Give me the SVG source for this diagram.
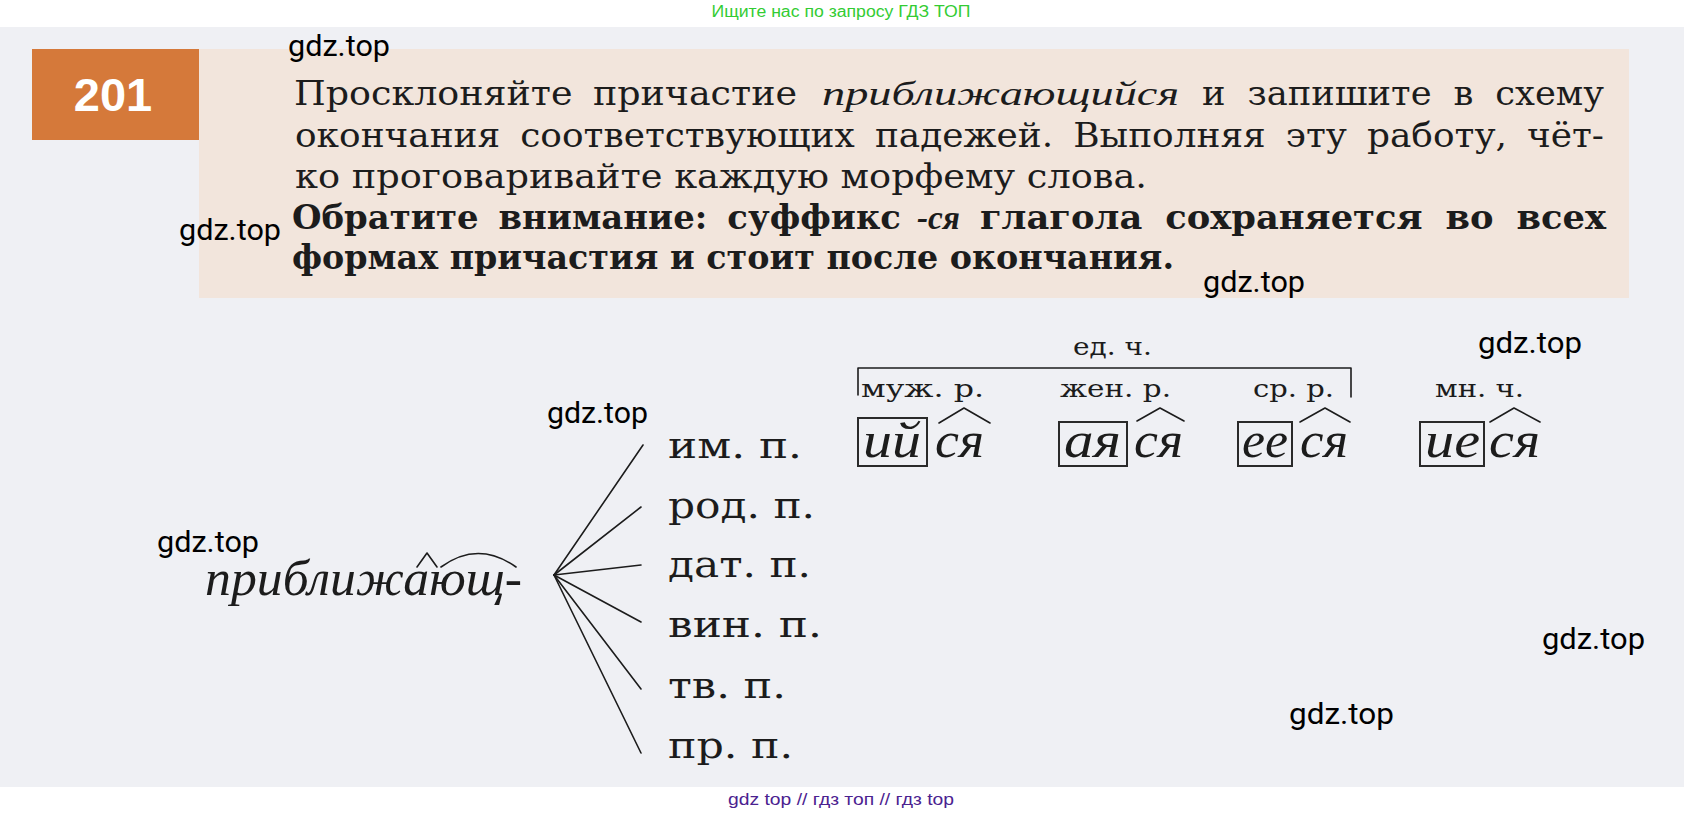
<svg xmlns="http://www.w3.org/2000/svg" width="1684" height="816" viewBox="0 0 1684 816">
<style>
.t{font-family:"DejaVu Serif","Liberation Serif",serif;font-size:33px;fill:#1c1c1c}
.b{font-weight:bold}
.it{font-family:"Liberation Serif","DejaVu Serif",serif;font-style:italic}
.wm{font-family:Roboto,"Liberation Sans",sans-serif;font-size:29px;fill:#000}
.case{font-family:"DejaVu Serif","Liberation Serif",serif;font-size:35px;fill:#1c1c1c}
.lab{font-family:"DejaVu Serif","Liberation Serif",serif;font-size:25px;fill:#1c1c1c}
.end{font-family:"Liberation Serif","DejaVu Serif",serif;font-style:italic;font-size:50px;fill:#1c1c1c}
.ln{stroke:#1c1c1c;stroke-width:1.6;fill:none;stroke-linecap:round;stroke-linejoin:round}
.box{fill:none;stroke:#2a2a2a;stroke-width:2}
</style>
<rect width="1684" height="816" fill="#ffffff"/>
<rect x="0" y="27" width="1684" height="760" fill="#eff0f4"/>
<text x="841" y="17" text-anchor="middle" font-family="'Liberation Sans',Arial,sans-serif" font-size="16" fill="#33cc33" textLength="259" lengthAdjust="spacingAndGlyphs">Ищите нас по запросу ГДЗ ТОП</text>

<g id="task">
<rect x="32" y="49" width="167" height="91" fill="#d5793a"/>
<rect x="199" y="49" width="1430" height="249" fill="#f2e5dc"/>
<text x="113" y="111" text-anchor="middle" font-family="'Liberation Sans',Arial,sans-serif" font-weight="bold" font-size="47" fill="#ffffff">201</text>
<text class="t" x="294" y="105" word-spacing="8" textLength="503" lengthAdjust="spacingAndGlyphs">Просклоняйте причастие</text>
<text class="t it" x="822" y="105" font-size="38" textLength="357" lengthAdjust="spacingAndGlyphs">приближающийся</text>
<text class="t" x="1202" y="105" word-spacing="10" textLength="402" lengthAdjust="spacingAndGlyphs">и запишите в схему</text>
<text class="t" x="295" y="147" word-spacing="8" textLength="1309" lengthAdjust="spacingAndGlyphs">окончания соответствующих падежей. Выполняя эту работу, чёт-</text>
<text class="t" x="295" y="188" textLength="852" lengthAdjust="spacingAndGlyphs">ко проговаривайте каждую морфему слова.</text>
<text class="t b" x="292" y="229" word-spacing="8" textLength="609" lengthAdjust="spacingAndGlyphs">Обратите внимание: суффикс</text>
<text class="t it b" x="917" y="229" font-size="37" textLength="43" lengthAdjust="spacingAndGlyphs">-ся</text>
<text class="t b" x="980" y="229" word-spacing="10" textLength="626" lengthAdjust="spacingAndGlyphs">глагола сохраняется во всех</text>
<text class="t b" x="292" y="269" textLength="882" lengthAdjust="spacingAndGlyphs">формах причастия и стоит после окончания.</text>
</g>

<g id="stem">
<text class="end" x="205" y="595" font-size="48" textLength="317" lengthAdjust="spacingAndGlyphs">приближающ-</text>
<polyline class="ln" points="417,567 427,553 437,567"/>
<path class="ln" d="M441,567 Q478,540 516,567"/>
</g>

<g id="connectors">
<line class="ln" x1="554" y1="575" x2="643" y2="445"/>
<line class="ln" x1="554" y1="575" x2="641" y2="507"/>
<line class="ln" x1="554" y1="575" x2="641" y2="565"/>
<line class="ln" x1="554" y1="575" x2="641" y2="622"/>
<line class="ln" x1="554" y1="575" x2="641" y2="689"/>
<line class="ln" x1="554" y1="575" x2="641" y2="753"/>
<path class="ln" d="M858,395 V368 H1351 V397"/>
</g>

<g id="cases">
<text class="case" x="668" y="458" textLength="134" lengthAdjust="spacingAndGlyphs">им. п.</text>
<text class="case" x="668" y="518" textLength="147" lengthAdjust="spacingAndGlyphs">род. п.</text>
<text class="case" x="668" y="577" textLength="143" lengthAdjust="spacingAndGlyphs">дат. п.</text>
<text class="case" x="668" y="637" textLength="154" lengthAdjust="spacingAndGlyphs">вин. п.</text>
<text class="case" x="668" y="698" textLength="118" lengthAdjust="spacingAndGlyphs">тв. п.</text>
<text class="case" x="668" y="758" textLength="125" lengthAdjust="spacingAndGlyphs">пр. п.</text>
</g>

<g id="singular-label">
<text class="lab" x="1073" y="355" textLength="79" lengthAdjust="spacingAndGlyphs">ед. ч.</text>
</g>

<g id="masc">
<text class="lab" x="861" y="397" textLength="123" lengthAdjust="spacingAndGlyphs">муж. р.</text>
<rect class="box" x="858" y="418" width="69" height="48"/>
<text class="end" x="863" y="457" textLength="58" lengthAdjust="spacingAndGlyphs">ий</text>
<text class="end" x="935" y="457" textLength="49" lengthAdjust="spacingAndGlyphs">ся</text>
<polyline class="ln" points="939,423 964,408 990,423"/>
</g>

<g id="fem">
<text class="lab" x="1060" y="397" textLength="111" lengthAdjust="spacingAndGlyphs">жен. р.</text>
<rect class="box" x="1059" y="422" width="68" height="44"/>
<text class="end" x="1064" y="457" textLength="57" lengthAdjust="spacingAndGlyphs">ая</text>
<text class="end" x="1134" y="457" textLength="49" lengthAdjust="spacingAndGlyphs">ся</text>
<polyline class="ln" points="1137,421 1160,408 1184,421"/>
</g>

<g id="neut">
<text class="lab" x="1253" y="397" textLength="81" lengthAdjust="spacingAndGlyphs">ср. р.</text>
<rect class="box" x="1238" y="422" width="54" height="44"/>
<text class="end" x="1242" y="457" textLength="46" lengthAdjust="spacingAndGlyphs">ее</text>
<text class="end" x="1300" y="457" textLength="48" lengthAdjust="spacingAndGlyphs">ся</text>
<polyline class="ln" points="1300,422 1325,408 1350,422"/>
</g>

<g id="plural">
<text class="lab" x="1435" y="397" textLength="89" lengthAdjust="spacingAndGlyphs">мн. ч.</text>
<rect class="box" x="1420" y="422" width="64" height="44"/>
<text class="end" x="1425" y="457" textLength="55" lengthAdjust="spacingAndGlyphs">ие</text>
<text class="end" x="1489" y="457" textLength="51" lengthAdjust="spacingAndGlyphs">ся</text>
<polyline class="ln" points="1490,422 1514,408 1540,422"/>
</g>

<g id="watermarks">
<text class="wm" x="288" y="56" textLength="102" lengthAdjust="spacingAndGlyphs">gdz.top</text>
<text class="wm" x="179" y="240" textLength="102" lengthAdjust="spacingAndGlyphs">gdz.top</text>
<text class="wm" x="1203" y="292" textLength="102" lengthAdjust="spacingAndGlyphs">gdz.top</text>
<text class="wm" x="1478" y="353" textLength="104" lengthAdjust="spacingAndGlyphs">gdz.top</text>
<text class="wm" x="547" y="423" textLength="101" lengthAdjust="spacingAndGlyphs">gdz.top</text>
<text class="wm" x="157" y="552" textLength="102" lengthAdjust="spacingAndGlyphs">gdz.top</text>
<text class="wm" x="1542" y="649" textLength="103" lengthAdjust="spacingAndGlyphs">gdz.top</text>
<text class="wm" x="1289" y="724" textLength="105" lengthAdjust="spacingAndGlyphs">gdz.top</text>
</g>

<text x="841" y="805" text-anchor="middle" font-family="'Liberation Sans',Arial,sans-serif" font-size="16" fill="#4b2290" textLength="226" lengthAdjust="spacingAndGlyphs">gdz top  //  гдз топ  //  гдз top</text>
</svg>
